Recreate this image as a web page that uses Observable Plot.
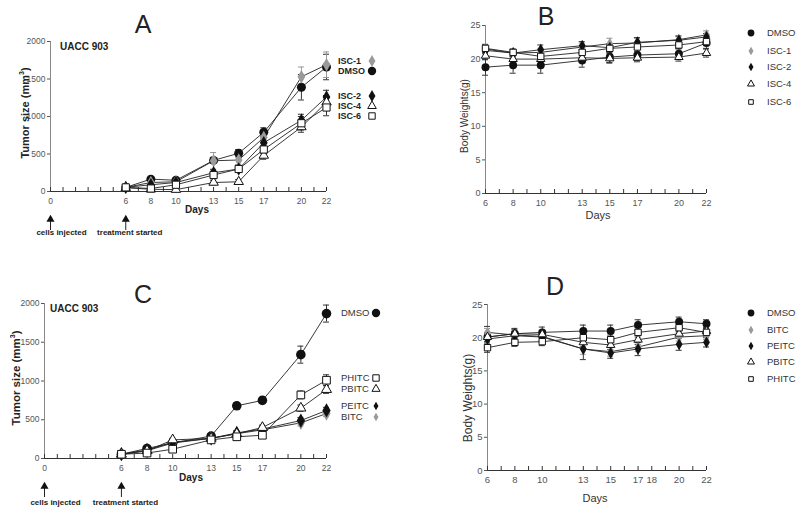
<!DOCTYPE html>
<html><head><meta charset="utf-8">
<script src="https://cdn.jsdelivr.net/npm/d3@7"></script>
<script src="https://cdn.jsdelivr.net/npm/@observablehq/plot@0.6"></script>
<style>
body{margin:0;background:#fff;}
#wrap{position:relative;width:800px;height:510px;overflow:hidden;background:#fff;font-family:"Liberation Sans",Arial,Helvetica,sans-serif;}
.panel{position:absolute;}
.t{position:absolute;white-space:nowrap;line-height:1;}
</style></head><body><div id="wrap"></div>
<script>
// ---------- data ----------
const days = [6, 8, 10, 13, 15, 17, 20, 22];

// Panel A: tumor size (mm3), ISC compounds
const aDMSO = [55, 165, 150, 415, 510, 790, 1390, 1660];
const aDMSOerr = [10, 20, 20, 40, 50, 60, 170, 170];
const aISC1 = [55, 120, 130, 410, 420, 720, 1530, 1690];
const aISC1err = [10, 15, 20, 110, 60, 60, 130, 170];
const aISC2 = [55, 90, 120, 250, 300, 650, 950, 1260];
const aISC2err = [10, 10, 15, 40, 40, 50, 80, 90];
const aISC4 = [50, 30, 25, 120, 130, 480, 860, 1190];
const aISC4err = [10, 10, 10, 30, 30, 50, 70, 90];
const aISC6 = [55, 40, 90, 220, 300, 560, 910, 1120];
const aISC6err = [10, 10, 15, 40, 40, 50, 90, 110];

// Panel B: body weights (g), ISC compounds
const bDMSO = [18.8, 19.1, 19.1, 19.8, 20.3, 20.6, 20.8, 22.4];
const bDMSOerr = [1.2, 1.2, 1.2, 1.0, 0.8, 0.8, 0.8, 0.8];
const bISC1 = [21.5, 20.9, 21.0, 21.8, 22.3, 22.4, 22.9, 23.6];
const bISC1err = [0.5, 0.5, 0.6, 0.6, 0.8, 0.7, 0.6, 0.6];
const bISC2 = [21.3, 20.9, 21.4, 22.0, 21.7, 22.5, 22.8, 23.3];
const bISC2err = [0.5, 0.5, 0.7, 0.6, 0.6, 0.7, 0.6, 0.5];
const bISC4 = [20.5, 20.0, 20.0, 20.2, 20.1, 20.2, 20.3, 20.9];
const bISC4err = [0.6, 0.7, 0.7, 0.6, 0.7, 0.6, 0.6, 0.6];
const bISC6 = [21.6, 21.0, 20.4, 21.0, 21.6, 21.8, 22.1, 22.6];
const bISC6err = [0.6, 0.5, 0.6, 0.7, 0.6, 0.7, 0.6, 0.6];

// Panel C: tumor size (mm3), ITC compounds
const cDMSO = [55, 130, 200, 290, 680, 750, 1340, 1870];
const cDMSOerr = [10, 20, 20, 30, 40, 40, 110, 110];
const cBITC = [55, 100, 200, 260, 320, 370, 460, 580];
const cBITCerr = [10, 10, 20, 20, 30, 30, 40, 40];
const cPEITC = [55, 110, 210, 260, 330, 380, 490, 620];
const cPEITCerr = [10, 10, 20, 20, 30, 30, 40, 40];
const cPBITC = [55, 100, 240, 260, 320, 400, 650, 890];
const cPBITCerr = [10, 10, 20, 20, 30, 30, 40, 50];
const cPHITC = [55, 70, 120, 240, 280, 300, 820, 1010];
const cPHITCerr = [10, 10, 15, 20, 30, 30, 50, 70];

// Panel D: body weights (g), ITC compounds
const dDMSO = [20.1, 20.6, 20.8, 21.0, 21.0, 21.9, 22.4, 22.1];
const dDMSOerr = [1.6, 0.8, 0.8, 0.9, 0.9, 0.8, 0.7, 0.6];
const dBITC = [20.8, 20.4, 20.2, 18.3, 17.9, 18.6, 20.1, 20.3];
const dBITCerr = [0.6, 0.6, 0.6, 0.8, 0.7, 0.7, 0.6, 0.6];
const dPEITC = [19.8, 20.3, 20.1, 18.3, 17.7, 18.3, 19.0, 19.3];
const dPEITCerr = [0.8, 0.6, 0.6, 1.6, 0.8, 1.0, 0.9, 0.7];
const dPBITC = [20.1, 20.6, 20.5, 19.3, 18.9, 19.7, 20.6, 21.0];
const dPBITCerr = [0.7, 0.6, 0.6, 0.7, 0.7, 0.7, 0.6, 0.6];
const dPHITC = [18.5, 19.3, 19.4, 20.0, 19.7, 20.8, 21.5, 20.8];
const dPHITCerr = [0.7, 0.6, 0.6, 0.7, 0.7, 0.7, 0.6, 0.6];

// ticks and labels
const tumorTicks = [0, 500, 1000, 1500, 2000];
const weightTicks = [0, 5, 10, 15, 20, 25];
const tumorDayLabels = [0, 6, 8, 10, 13, 15, 17, 20, 22];
const weightDayLabelsB = [6, 8, 10, 13, 15, 17, 20, 22];
const weightDayLabelsD = [6, 8, 10, 13, 15, 17, 18, 20, 22];
const tumorMinorDays = d3.range(0, 23);
const weightMinorDays = d3.range(6, 23);
const events = [{day: 0, label: "cells injected"}, {day: 6, label: "treatment started"}];

// series styles
const sty = {
  DMSO: {symbol: "circle", fill: "#111", stroke: "none", err: "#333"},
  gray: {symbol: "diamond", fill: "#9a9a9a", stroke: "none", err: "#999"},
  black: {symbol: "diamond", fill: "#111", stroke: "none", err: "#333"},
  tri: {symbol: "triangle", fill: "#fff", stroke: "#111", err: "#333"},
  sq: {symbol: "square", fill: "#fff", stroke: "#111", err: "#333"}
};
const seriesA = [
  {name: "DMSO", v: aDMSO, e: aDMSOerr, ...sty.DMSO},
  {name: "ISC-1", v: aISC1, e: aISC1err, ...sty.gray},
  {name: "ISC-2", v: aISC2, e: aISC2err, ...sty.black},
  {name: "ISC-4", v: aISC4, e: aISC4err, ...sty.tri},
  {name: "ISC-6", v: aISC6, e: aISC6err, ...sty.sq}
];
const seriesB = [
  {name: "DMSO", v: bDMSO, e: bDMSOerr, ...sty.DMSO},
  {name: "ISC-1", v: bISC1, e: bISC1err, ...sty.gray},
  {name: "ISC-2", v: bISC2, e: bISC2err, ...sty.black},
  {name: "ISC-4", v: bISC4, e: bISC4err, ...sty.tri},
  {name: "ISC-6", v: bISC6, e: bISC6err, ...sty.sq}
];
const seriesC = [
  {name: "DMSO", v: cDMSO, e: cDMSOerr, ...sty.DMSO},
  {name: "BITC", v: cBITC, e: cBITCerr, ...sty.gray},
  {name: "PEITC", v: cPEITC, e: cPEITCerr, ...sty.black},
  {name: "PBITC", v: cPBITC, e: cPBITCerr, ...sty.tri},
  {name: "PHITC", v: cPHITC, e: cPHITCerr, ...sty.sq}
];
const seriesD = [
  {name: "DMSO", v: dDMSO, e: dDMSOerr, ...sty.DMSO},
  {name: "BITC", v: dBITC, e: dBITCerr, ...sty.gray},
  {name: "PEITC", v: dPEITC, e: dPEITCerr, ...sty.black},
  {name: "PBITC", v: dPBITC, e: dPBITCerr, ...sty.tri},
  {name: "PHITC", v: dPHITC, e: dPHITCerr, ...sty.sq}
];

const wrap = document.getElementById("wrap");
const FONT = '"Liberation Sans", Arial, Helvetica, sans-serif';
const fmt = d3.format("d");

function rowsOf(s) { return days.map((d, i) => ({day: d, v: s.v[i], e: s.e[i]})); }
function symR(sym, r) { return sym === "circle" ? r : sym === "diamond" ? r * 0.9 : sym === "triangle" ? r * 0.78 : r * 0.9; }

function panel(cfg) {
  const marks = [];
  marks.push(Plot.ruleX([cfg.xDomain[0]], {stroke: "#888", strokeWidth: 1}));
  marks.push(Plot.ruleY([0], {stroke: "#333", strokeWidth: 1}));
  marks.push(Plot.ruleX(cfg.minor, {x: d => d, y1: () => 0, y2: () => 0, insetTop: -4, stroke: "#333"}));
  marks.push(Plot.axisY(cfg.yTicks, {tickSize: 3, tickPadding: 2, label: null, tickFormat: fmt, fontSize: cfg.yFont, color: "#555"}));
  marks.push(Plot.axisX(cfg.xLabels, {tickSize: 0, tickPadding: cfg.xPad, label: null, tickFormat: fmt, fontSize: cfg.xFont, color: "#555"}));
  for (const s of cfg.series) {
    marks.push(Plot.line(rowsOf(s), {x: "day", y: "v", stroke: "#222", strokeWidth: 0.9}));
  }
  for (const s of cfg.series) {
    const rows = rowsOf(s);
    marks.push(Plot.ruleX(rows, {x: "day", y1: d => d.v - d.e, y2: d => d.v + d.e, stroke: s.err, strokeWidth: 1}));
    marks.push(Plot.ruleY(rows, {y: d => d.v + d.e, x1: "day", x2: "day", insetLeft: -3, insetRight: -3, stroke: s.err}));
    marks.push(Plot.ruleY(rows, {y: d => d.v - d.e, x1: "day", x2: "day", insetLeft: -3, insetRight: -3, stroke: s.err}));
  }
  for (const s of cfg.series) {
    marks.push(Plot.dot(rowsOf(s), {x: "day", y: "v", symbol: s.symbol, r: symR(s.symbol, cfg.r), fill: s.fill, stroke: s.stroke, strokeWidth: 1}));
  }
  if (cfg.events) {
    marks.push(Plot.ruleX(cfg.events, {x: "day", y1: () => 0, y2: () => 0, insetTop: cfg.arrow[0], insetBottom: -cfg.arrow[1], stroke: "#222", strokeWidth: 1}));
    marks.push(Plot.dot(cfg.events, {x: "day", y: () => 0, dy: cfg.arrow[0] + 3, symbol: "triangle", r: 3, fill: "#111"}));
    marks.push(Plot.text([cfg.events[0]], {x: "day", y: () => 0, dy: cfg.arrow[2], dx: 11, text: "label", fontSize: 8, fontWeight: "bold", fill: "#222"}));
    marks.push(Plot.text([cfg.events[1]], {x: "day", y: () => 0, dy: cfg.arrow[2], dx: 4, text: "label", fontSize: 8, fontWeight: "bold", fill: "#222"}));
  }
  const svg = Plot.plot({
    width: cfg.width, height: cfg.height,
    marginTop: cfg.m[0], marginRight: cfg.m[1], marginBottom: cfg.m[2], marginLeft: cfg.m[3],
    x: {domain: cfg.xDomain}, y: {domain: cfg.yDomain},
    style: {fontFamily: FONT, background: "transparent", overflow: "visible"},
    marks
  });
  svg.classList.add("panel");
  svg.style.left = cfg.left + "px";
  svg.style.top = cfg.top + "px";
  wrap.appendChild(svg);
}

function txt(t, x, y, o = {}) {
  const el = document.createElement("div");
  el.className = "t";
  el.innerHTML = t;
  el.style.left = x + "px"; el.style.top = y + "px";
  el.style.fontSize = (o.size || 10) + "px";
  el.style.fontWeight = o.bold ? "bold" : "normal";
  el.style.color = o.color || "#222";
  const tx = o.anchor === "start" ? "0" : o.anchor === "end" ? "-100%" : "-50%";
  el.style.transform = `translate(${tx},-50%)` + (o.rotate ? ` rotate(${o.rotate}deg)` : "");
  wrap.appendChild(el);
}

const symMap = {circle: d3.symbolCircle, diamond: d3.symbolDiamond, triangle: d3.symbolTriangle, square: d3.symbolSquare};
function legendSym(s, x, y, r) {
  const ns = "http://www.w3.org/2000/svg";
  const sv = document.createElementNS(ns, "svg");
  sv.setAttribute("width", 16); sv.setAttribute("height", 16);
  sv.style.position = "absolute"; sv.style.left = (x - 8) + "px"; sv.style.top = (y - 8) + "px";
  const p = document.createElementNS(ns, "path");
  p.setAttribute("d", d3.symbol(symMap[s.symbol], Math.PI * r * r)());
  p.setAttribute("transform", "translate(8,8)");
  p.setAttribute("fill", s.fill); p.setAttribute("stroke", s.stroke === "none" ? "none" : s.stroke);
  sv.appendChild(p);
  wrap.appendChild(sv);
}

// ---------- panels ----------
panel({left: 0, top: 0, width: 400, height: 250, m: [41, 74, 59, 50], xDomain: [0, 22], yDomain: [0, 2000],
  yTicks: tumorTicks, xLabels: tumorDayLabels, minor: tumorMinorDays, series: seriesA, r: 4.5,
  yFont: 8.5, xFont: 8.5, xPad: 6, events, arrow: [25, 39, 41]});
panel({left: 400, top: 0, width: 400, height: 250, m: [25, 94, 57, 85], xDomain: [6, 22], yDomain: [0, 25],
  yTicks: weightTicks, xLabels: weightDayLabelsB, minor: weightMinorDays, series: seriesB, r: 4,
  yFont: 9, xFont: 9, xPad: 6});
panel({left: 0, top: 270, width: 400, height: 240, m: [33, 74, 52, 44], xDomain: [0, 22], yDomain: [0, 2000],
  yTicks: tumorTicks, xLabels: tumorDayLabels, minor: tumorMinorDays, series: seriesC, r: 4.8,
  yFont: 8.5, xFont: 8.5, xPad: 6, events, arrow: [25, 39, 44]});
panel({left: 400, top: 270, width: 400, height: 240, m: [34, 94, 40, 87], xDomain: [6, 22], yDomain: [0, 25],
  yTicks: weightTicks, xLabels: weightDayLabelsD, minor: weightMinorDays, series: seriesD, r: 4,
  yFont: 9.5, xFont: 9.5, xPad: 6});

// ---------- titles & labels ----------
txt("A", 143, 24, {size: 25});
txt("B", 546, 16, {size: 25});
txt("C", 143, 294, {size: 25});
txt("D", 555, 286, {size: 25});
txt("UACC 903", 60, 47, {size: 10, bold: true, anchor: "start"});
txt("UACC 903", 50, 309, {size: 10, bold: true, anchor: "start"});
txt("Tumor size (mm<sup style='font-size:7px;vertical-align:5px'>3</sup>)", 24, 113, {size: 11, bold: true, rotate: -90});
txt("Tumor size (mm<sup style='font-size:7px;vertical-align:5px'>3</sup>)", 16, 378, {size: 11.5, bold: true, rotate: -90});
txt("Body Weights(g)", 465, 116, {size: 10, rotate: -90, color: "#333"});
txt("Body Weights(g)", 468, 398, {size: 12, rotate: -90, color: "#333"});
txt("Days", 197, 210, {size: 10, bold: true});
txt("Days", 191, 478, {size: 10, bold: true});
txt("Days", 598, 215, {size: 11, color: "#333"});
txt("Days", 595, 498, {size: 11, color: "#333"});

// ---------- legends ----------
const legA = [["ISC-1", 61, seriesA[1]], ["DMSO", 70.5, seriesA[0]], ["ISC-2", 95.5, seriesA[2]], ["ISC-4", 105.5, seriesA[3]], ["ISC-6", 115.5, seriesA[4]]];
for (const [n, y, s] of legA) { txt(n, 338, y, {size: 9, bold: true, anchor: "start"}); legendSym(s, 372, y, s.symbol === "circle" ? 4.2 : s.symbol === "triangle" ? 3.2 : 3.6); }
const legC = [["DMSO", 313, seriesC[0]], ["PHITC", 378, seriesC[4]], ["PBITC", 389, seriesC[3]], ["PEITC", 406, seriesC[2]], ["BITC", 417, seriesC[1]]];
for (const [n, y, s] of legC) { txt(n, 341, y, {size: 9.5, anchor: "start", color: "#333"}); legendSym(s, 376, y, s.symbol === "circle" ? 4.2 : s.symbol === "diamond" ? 2.6 : s.symbol === "triangle" ? 3 : 3.6); }
const legB = [["DMSO", 33, seriesB[0]], ["ISC-1", 51, seriesB[1]], ["ISC-2", 67, seriesB[2]], ["ISC-4", 84, seriesB[3]], ["ISC-6", 102, seriesB[4]]];
for (const [n, y, s] of legB) { txt(n, 767, y, {size: 9.5, anchor: "start", color: "#333"}); legendSym(s, 751, y, s.symbol === "circle" ? 3.4 : 2.6); }
const legD = [["DMSO", 313, seriesD[0]], ["BITC", 330, seriesD[1]], ["PEITC", 346, seriesD[2]], ["PBITC", 362, seriesD[3]], ["PHITC", 379, seriesD[4]]];
for (const [n, y, s] of legD) { txt(n, 767, y, {size: 9.5, anchor: "start", color: "#333"}); legendSym(s, 751, y, s.symbol === "circle" ? 3.4 : 2.6); }
</script></body></html>
